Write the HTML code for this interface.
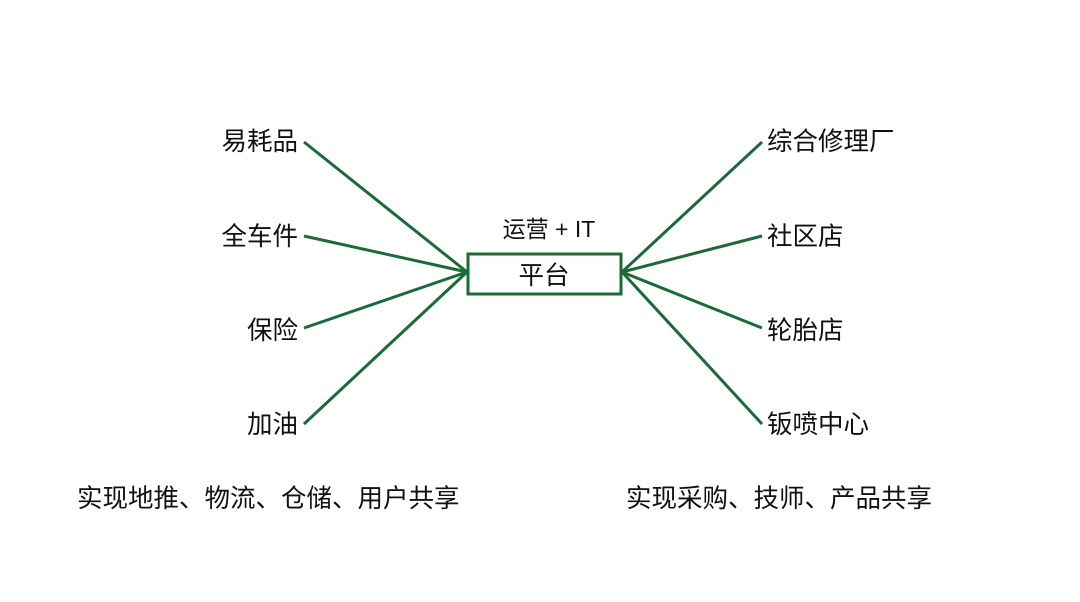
<!DOCTYPE html>
<html><head><meta charset="utf-8"><style>
html,body{margin:0;padding:0;background:#fff}
svg{display:block}
text{font-family:"Liberation Sans","Noto Sans CJK SC",sans-serif;fill:#111}
</style></head><body>
<svg width="1080" height="602" viewBox="0 0 1080 602">
<rect x="0" y="0" width="1080" height="602" fill="#fff"/>
<g stroke="#1a6b38" stroke-width="3" fill="none">
<line x1="304" y1="142" x2="467" y2="272"/>
<line x1="304" y1="236" x2="467" y2="272"/>
<line x1="304" y1="328" x2="467" y2="272"/>
<line x1="304" y1="424" x2="467" y2="272"/>
<line x1="762" y1="142" x2="622" y2="272"/>
<line x1="762" y1="236" x2="622" y2="272"/>
<line x1="762" y1="328" x2="622" y2="272"/>
<line x1="762" y1="424" x2="622" y2="272"/>
<rect x="468" y="254" width="153" height="40" fill="#fff"/>
</g>
<g font-size="25.5">
<text x="298" y="150" text-anchor="end">易耗品</text>
<text x="298" y="245" text-anchor="end">全车件</text>
<text x="298" y="339" text-anchor="end">保险</text>
<text x="298" y="433" text-anchor="end">加油</text>
<text x="767" y="150">综合修理厂</text>
<text x="767" y="245">社区店</text>
<text x="767" y="339">轮胎店</text>
<text x="767" y="433">钣喷中心</text>
<text x="544" y="284" text-anchor="middle">平台</text>
<text x="549" y="237" text-anchor="middle" font-size="23">运营 + IT</text>
<text x="77" y="507">实现地推、物流、仓储、用户共享</text>
<text x="626" y="507">实现采购、技师、产品共享</text>
</g>
</svg>
</body></html>
